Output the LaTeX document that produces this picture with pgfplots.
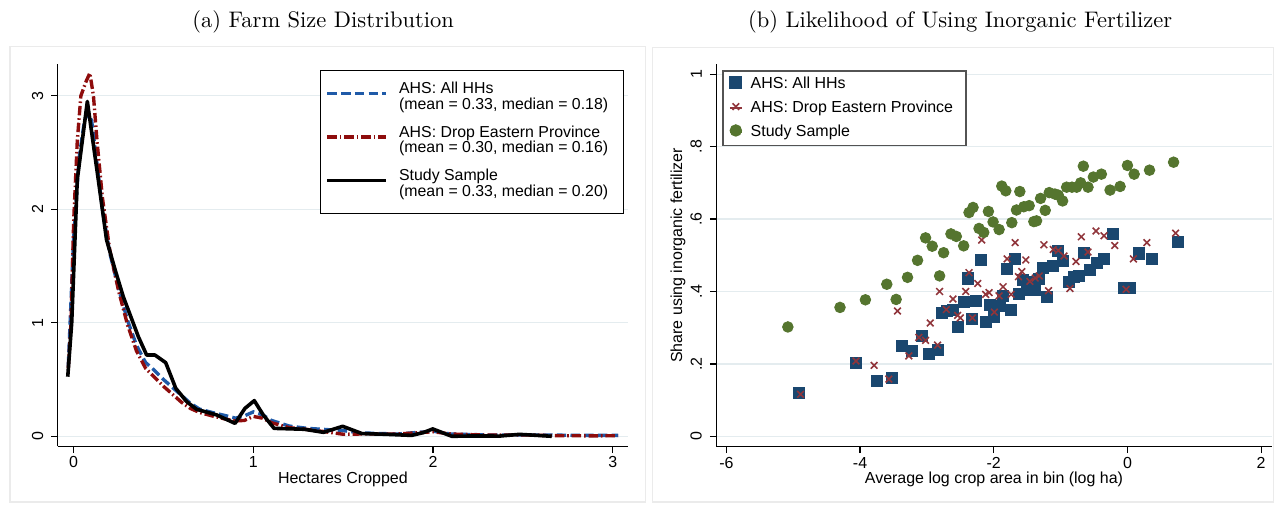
\documentclass[border=0pt]{standalone}
\usepackage{fontspec}
\usepackage{pgfplots}
\pgfplotsset{compat=1.18}
\newfontfamily\arial{Liberation Sans}

\definecolor{sqblue}{HTML}{1A476F}
\definecolor{xred}{HTML}{90353B}
\definecolor{dotgreen}{HTML}{55752F}
\definecolor{lnblue}{HTML}{1F5AA8}
\definecolor{lnred}{HTML}{8E0C0C}
\definecolor{gridc}{HTML}{E4ECEF}
\definecolor{framec}{HTML}{EBEBEB}

% binned shares, right panel
\pgfplotstableread{
x y
-4.91 0.121
-4.06 0.203
-3.74 0.152
-3.52 0.160
-3.37 0.249
-3.22 0.235
-3.08 0.277
-2.97 0.228
-2.84 0.238
-2.78 0.341
-2.70 0.345
-2.61 0.349
-2.54 0.301
-2.44 0.372
-2.38 0.436
-2.32 0.325
-2.27 0.373
-2.19 0.488
-2.11 0.316
-2.05 0.364
-2.00 0.330
-1.91 0.360
-1.86 0.387
-1.80 0.461
-1.74 0.349
-1.68 0.490
-1.62 0.393
-1.57 0.433
-1.50 0.427
-1.45 0.404
-1.38 0.404
-1.32 0.434
-1.26 0.466
-1.20 0.386
-1.12 0.470
-1.045 0.513
-0.96 0.485
-0.87 0.426
-0.80 0.439
-0.72 0.444
-0.65 0.506
-0.56 0.459
-0.46 0.480
-0.35 0.490
-0.21 0.558
-0.05 0.409
0.04 0.411
0.17 0.505
0.37 0.489
0.76 0.536
}\ahsall

\pgfplotstableread{
x y
-4.89 0.116
-4.06 0.208
-3.79 0.196
-3.57 0.158
-3.44 0.346
-3.27 0.222
-3.12 0.273
-3.02 0.265
-2.95 0.313
-2.84 0.252
-2.81 0.400
-2.71 0.350
-2.61 0.379
-2.54 0.334
-2.50 0.327
-2.42 0.400
-2.37 0.452
-2.32 0.327
-2.24 0.422
-2.18 0.542
-2.12 0.392
-2.07 0.397
-1.99 0.343
-1.92 0.388
-1.86 0.413
-1.80 0.490
-1.74 0.392
-1.68 0.535
-1.63 0.441
-1.58 0.455
-1.52 0.487
-1.46 0.428
-1.38 0.437
-1.32 0.443
-1.25 0.529
-1.18 0.402
-1.11 0.516
-1.035 0.513
-0.95 0.498
-0.86 0.408
-0.77 0.483
-0.69 0.551
-0.59 0.509
-0.47 0.567
-0.35 0.554
-0.19 0.527
-0.02 0.406
0.09 0.490
0.29 0.535
0.72 0.561
}\ahsdrop

\pgfplotstableread{
x y
-5.08 0.302
-4.30 0.356
-3.92 0.377
-3.60 0.420
-3.46 0.378
-3.29 0.439
-3.14 0.486
-3.02 0.548
-2.92 0.525
-2.81 0.443
-2.75 0.507
-2.64 0.559
-2.56 0.552
-2.45 0.526
-2.37 0.618
-2.31 0.632
-2.22 0.574
-2.15 0.563
-2.08 0.621
-2.01 0.592
-1.92 0.571
-1.88 0.691
-1.82 0.678
-1.73 0.590
-1.66 0.625
-1.61 0.676
-1.55 0.634
-1.47 0.637
-1.40 0.593
-1.36 0.595
-1.30 0.657
-1.23 0.624
-1.17 0.673
-1.085 0.669
-1.035 0.666
-0.97 0.650
-0.91 0.688
-0.83 0.688
-0.76 0.688
-0.70 0.700
-0.66 0.746
-0.59 0.688
-0.51 0.716
-0.39 0.724
-0.26 0.680
-0.11 0.690
0.00 0.748
0.10 0.724
0.33 0.735
0.69 0.757
}\study

\pgfplotsset{
  stata/.style={
    scale only axis,
    axis x line*=bottom,
    axis y line*=left,
    axis line style={line width=0.55pt, black},
    tick align=outside,
    major tick length=2.9pt,
    tick style={line width=0.55pt, black},
    ymajorgrids,
    grid style={line width=0.6pt, gridc},
    tick label style={font=\arial\fontsize{7.1}{8}\selectfont},
    label style={font=\arial\fontsize{7.1}{8}\selectfont},
    yticklabel style={rotate=90, anchor=south},
    xticklabel style={anchor=north, yshift=1.8pt},
  },
  % line sample for the legend; the last one also pads the box below
  linekey/.style={legend image code/.code={\draw[##1] (0pt,0pt) -- (26.2pt,0pt);}},
  linekeylast/.style={legend image code/.code={\draw[##1] (0pt,0pt) -- (26.2pt,0pt); \path (0pt,-9.4pt);}},
}

\begin{document}
\begin{tikzpicture}
\path[use as bounding box] (0pt,0pt) rectangle (566.22pt,224.44pt);

% panel frames and titles
\draw[framec, line width=0.5pt] (4.44pt,1.33pt) rectangle (286.7pt,203.7pt);
\draw[framec, line width=0.5pt] (289.9pt,1.33pt) rectangle (565.8pt,203.4pt);
\node[font=\normalsize] at (143.6pt,214.7pt) {(a) Farm Size Distribution};
\node[font=\normalsize] at (426.7pt,214.7pt) {(b) Likelihood of Using Inorganic Fertilizer};

% (a) densities of hectares cropped
\begin{axis}[stata,
  at={(25.64pt,26.09pt)}, anchor=south west,
  width=253.5pt, height=169.9pt,
  xmin=-0.089, xmax=3.085, ymin=-0.088, ymax=3.28,
  xtick={0,1,2,3}, xticklabels={0,1,2,3},
  ytick={0,1,2,3}, yticklabels={0,1,2,3},
  xlabel={Hectares Cropped},
  xlabel style={at={([yshift=-14.5pt]axis description cs:0.5,0)}, anchor=center},
  legend cell align=left,
  legend style={at={(0.46,0.984)}, anchor=north west, draw=black, line width=0.5pt,
    font=\arial\fontsize{7.05}{6.36}\selectfont,
    inner xsep=2.2pt, inner ysep=4.5pt, row sep=8.1pt, column sep=4.4pt,
    nodes={inner sep=0.5pt}},
]
\addplot[lnblue, line width=1.5pt, dash pattern=on 4.2pt off 1.9pt, linekey] coordinates {
(-0.03,0.62) (0.0,1.75) (0.03,2.45) (0.06,2.78) (0.08,2.85) (0.10,2.78)
(0.13,2.40) (0.16,2.00) (0.20,1.62) (0.25,1.30) (0.30,1.02) (0.35,0.80)
(0.40,0.65) (0.45,0.58) (0.50,0.50) (0.55,0.43) (0.60,0.36) (0.65,0.29)
(0.70,0.24) (0.77,0.21) (0.85,0.18) (0.90,0.16) (0.95,0.18) (1.00,0.215)
(1.05,0.19) (1.10,0.14) (1.20,0.09) (1.30,0.07) (1.40,0.06) (1.50,0.05)
(1.60,0.03) (1.80,0.02) (2.00,0.045) (2.10,0.02) (2.30,0.012) (2.50,0.012)
(2.70,0.01) (2.90,0.008) (3.03,0.008)};
\addlegendentry{\begin{tabular}{@{}l@{\hspace{4.2pt}}}AHS: All HHs\\(mean = 0.33, median = 0.18)\end{tabular}}
\addplot[lnred, line width=1.5pt, dash pattern=on 4.2pt off 1.3pt on 0.7pt off 1.3pt, linekey] coordinates {
(-0.03,0.60) (-0.015,1.0) (0.0,1.9) (0.02,2.6) (0.04,3.0) (0.07,3.13) (0.09,3.20)
(0.11,3.0) (0.13,2.6) (0.16,2.1) (0.20,1.65) (0.25,1.28) (0.30,0.98)
(0.35,0.75) (0.40,0.60) (0.45,0.52) (0.50,0.44) (0.55,0.37) (0.60,0.30)
(0.65,0.245) (0.70,0.21) (0.77,0.18) (0.85,0.15) (0.90,0.135) (0.95,0.14)
(1.00,0.175) (1.05,0.16) (1.10,0.12) (1.20,0.076) (1.30,0.06) (1.40,0.04)
(1.50,0.018) (1.60,0.02) (1.80,0.02) (2.00,0.04) (2.10,0.02) (2.30,0.01)
(2.50,0.012) (2.70,0.005) (2.90,0.004) (3.03,0.005)};
\addlegendentry{\begin{tabular}{@{}l@{\hspace{4.2pt}}}AHS: Drop Eastern Province\\(mean = 0.30, median = 0.16)\end{tabular}}
\addplot[black, line width=1.6pt, line join=round, linekeylast] coordinates {
(-0.033,0.525) (-0.011,1.0) (0.02,2.26) (0.076,2.95) (0.137,2.26) (0.183,1.73)
(0.23,1.47) (0.276,1.23) (0.36,0.877) (0.406,0.716) (0.452,0.716)
(0.512,0.649) (0.568,0.423) (0.629,0.305) (0.684,0.238) (0.796,0.188)
(0.898,0.114) (0.953,0.246) (1.005,0.314) (1.055,0.188) (1.115,0.07)
(1.283,0.062) (1.39,0.035) (1.497,0.088) (1.604,0.024) (1.73,0.018)
(1.88,0.008) (1.945,0.032) (1.998,0.065) (2.104,0.0) (2.22,0.003)
(2.37,0.002) (2.48,0.017) (2.56,0.01) (2.66,0.0)};
\addlegendentry{\begin{tabular}{@{}l@{\hspace{4.2pt}}}Study Sample\\(mean = 0.33, median = 0.20)\end{tabular}}
\end{axis}

% (b) share using inorganic fertilizer by crop-area bin
\begin{axis}[stata,
  at={(318.36pt,25.9pt)}, anchor=south west,
  width=246.8pt, height=170.0pt,
  xmin=-6.15, xmax=2.157, ymin=-0.0287, ymax=1.0276,
  xtick={-6,-4,-2,0,2}, xticklabels={-6,-4,-2,0,2},
  ytick={0,0.2,0.4,0.6,0.8,1}, yticklabels={0,.2,.4,.6,.8,1},
  xlabel={Average log crop area in bin (log ha)},
  xlabel style={at={([yshift=-14.5pt]axis description cs:0.5,0)}, anchor=center},
  ylabel={Share using inorganic fertilizer},
  ylabel style={at={([xshift=-17pt]axis description cs:0,0.5)}, anchor=center},
  legend cell align=left,
  legend image code/.code={\path (-2.6pt,0pt) -- (2.6pt,0pt); \draw[#1,only marks] plot coordinates {(0pt,0.7pt)};},
  legend style={at={(0.0108,0.985)}, anchor=north west, draw=gray!65!black, line width=0.8pt,
    font=\arial\fontsize{7.1}{8}\selectfont,
    inner xsep=2.6pt, inner ysep=2.2pt, row sep=3.0pt, column sep=3.1pt,
    nodes={inner sep=0.5pt, text height=5.1pt, text depth=1.5pt}},
]
\addplot[only marks, mark=square*, mark size=2.45pt, sqblue] table[x=x, y=y] {\ahsall};
\addlegendentry{AHS: All HHs}
\addplot[only marks, mark=x, mark size=2.1pt, xred, mark options={line width=0.7pt}] table[x=x, y=y] {\ahsdrop};
\addlegendentry{AHS: Drop Eastern Province\hspace*{2.5pt}}
\addplot[only marks, mark=*, mark size=2.35pt, dotgreen] table[x=x, y=y] {\study};
\addlegendentry{Study Sample}
\end{axis}
\end{tikzpicture}
\end{document}
